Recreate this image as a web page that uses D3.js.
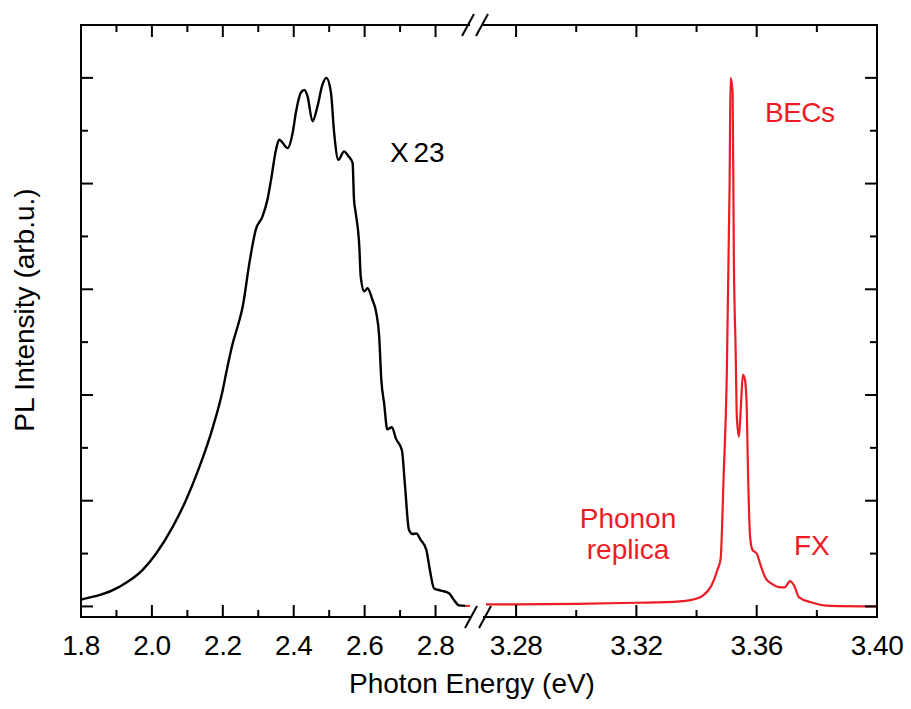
<!DOCTYPE html>
<html>
<head>
<meta charset="utf-8">
<script src="https://cdn.jsdelivr.net/npm/d3@7"></script>
<style>
  html, body { margin: 0; padding: 0; background: #fff; }
  svg { display: block; font-family: "Liberation Sans", Arial, sans-serif; }
</style>
</head>
<body>
<div id="chart"></div>
<script>
// espectro visible (escalado x23), eV vs intensidad normalizada
const energiaVisible = [1.80, 1.908, 1.974, 2.012, 2.059, 2.096, 2.134, 2.171, 2.20, 2.209, 2.228, 2.242, 2.256, 2.275, 2.293, 2.312, 2.326, 2.336, 2.350, 2.359, 2.383, 2.397, 2.406, 2.420, 2.430, 2.439, 2.453, 2.467, 2.481, 2.492, 2.505, 2.514, 2.526, 2.542, 2.554, 2.566, 2.570, 2.575, 2.585, 2.589, 2.599, 2.608, 2.622, 2.633, 2.641, 2.647, 2.655, 2.664, 2.677, 2.688, 2.705, 2.714, 2.725, 2.735, 2.746, 2.758, 2.774, 2.784, 2.796, 2.815, 2.838, 2.852, 2.866, 2.885];
const intensidadVisible = [0.013, 0.037, 0.069, 0.100, 0.151, 0.201, 0.264, 0.337, 0.410, 0.440, 0.498, 0.530, 0.567, 0.650, 0.713, 0.738, 0.770, 0.807, 0.864, 0.883, 0.867, 0.896, 0.934, 0.972, 0.977, 0.965, 0.918, 0.946, 0.987, 1.000, 0.972, 0.896, 0.845, 0.861, 0.852, 0.839, 0.770, 0.744, 0.681, 0.624, 0.596, 0.602, 0.580, 0.555, 0.511, 0.429, 0.384, 0.335, 0.339, 0.318, 0.296, 0.227, 0.145, 0.137, 0.138, 0.126, 0.107, 0.069, 0.034, 0.030, 0.025, 0.012, 0.002, 0.001];

// espectro UV (borde de banda)
const energiaUV = [3.27, 3.28, 3.30, 3.32, 3.33, 3.338, 3.342, 3.345, 3.347, 3.348, 3.349, 3.350, 3.351, 3.3513, 3.352, 3.3524, 3.353, 3.3534, 3.3541, 3.3548, 3.3554, 3.356, 3.3566, 3.3572, 3.3578, 3.3586, 3.360, 3.3613, 3.363, 3.3647, 3.368, 3.3693, 3.3711, 3.3724, 3.3741, 3.378, 3.3847, 3.40];
const intensidadUV = [0.004, 0.004, 0.005, 0.007, 0.008, 0.012, 0.020, 0.040, 0.070, 0.090, 0.245, 0.422, 0.800, 1.000, 0.972, 0.662, 0.485, 0.359, 0.321, 0.384, 0.438, 0.432, 0.391, 0.233, 0.132, 0.107, 0.100, 0.078, 0.053, 0.044, 0.036, 0.036, 0.048, 0.040, 0.017, 0.008, 0.001, 0.000];

// trocito rojo antes del corte
const energiaCorte = [2.885, 2.897];
const intensidadCorte = [0.001, 0.001];

const ticksIzq = [1.8, 2.0, 2.2, 2.4, 2.6, 2.8];
const ticksIzqMenores = [1.9, 2.1, 2.3, 2.5, 2.7];
const ticksDer = [3.28, 3.32, 3.36, 3.40];
const ticksDerMenores = [3.30, 3.34, 3.38];
const ticksY = [0, 0.2, 0.4, 0.6, 0.8, 1.0];
const ticksYMenores = [0.1, 0.3, 0.5, 0.7, 0.9];

const rojo = "#ED1C24";
const width = 911, height = 709;
const izq = 81, der = 877, arriba = 25, abajo = 617;
const corteA = 471, corteB = 483;

const x1 = d3.scaleLinear().domain([1.8, 2.9]).range([izq, corteA]);
const x2 = d3.scaleLinear().domain([3.269, 3.40]).range([corteB, der]);
const y = d3.scaleLinear().domain([-0.02, 1.1]).range([abajo, arriba]);

const svg = d3.select("#chart").append("svg")
  .attr("width", width)
  .attr("height", height);

function trazar(xs, ys, escala, col, ancho) {
  const puntos = xs.map((v, i) => [v, ys[i]]);
  svg.append("path")
    .datum(puntos)
    .attr("fill", "none")
    .attr("stroke", col)
    .attr("stroke-width", ancho)
    .attr("stroke-linejoin", "round")
    .attr("d", d3.line()
      .x(d => escala(d[0]))
      .y(d => y(d[1]))
      .curve(d3.curveMonotoneX));
}

trazar(energiaVisible, intensidadVisible, x1, "#000", 2.4);
trazar(energiaCorte, intensidadCorte, x1, rojo, 2);
trazar(energiaUV, intensidadUV, x2, rojo, 2.2);

// marco
const marco = svg.append("g").attr("stroke", "#000").attr("stroke-width", 2).attr("fill", "none");
marco.append("line").attr("x1", izq).attr("x2", izq).attr("y1", arriba - 1).attr("y2", abajo + 1);
marco.append("line").attr("x1", der).attr("x2", der).attr("y1", arriba - 1).attr("y2", abajo + 1);
[arriba, abajo].forEach(yy => {
  marco.append("line").attr("x1", izq).attr("x2", corteA - 1).attr("y1", yy).attr("y2", yy);
  marco.append("line").attr("x1", corteB).attr("x2", der).attr("y1", yy).attr("y2", yy);
});

// marcas de corte
[[468, arriba], [482, arriba], [471, abajo], [485, abajo]].forEach(([cx, cy]) => {
  marco.append("line")
    .attr("x1", cx - 6).attr("y1", cy + 11)
    .attr("x2", cx + 6).attr("y2", cy - 11);
});

// ticks hacia dentro
function ticksX(escala, valores, largo) {
  valores.forEach(v => {
    const px = escala(v);
    marco.append("line").attr("x1", px).attr("x2", px).attr("y1", abajo).attr("y2", abajo - largo);
    marco.append("line").attr("x1", px).attr("x2", px).attr("y1", arriba).attr("y2", arriba + largo);
  });
}
ticksX(x1, ticksIzq, 12);
ticksX(x1, ticksIzqMenores, 7);
ticksX(x2, ticksDer, 12);
ticksX(x2, ticksDerMenores, 7);

function ticksLadoY(valores, largo) {
  valores.forEach(v => {
    const py = y(v);
    marco.append("line").attr("x1", izq).attr("x2", izq + largo).attr("y1", py).attr("y2", py);
    marco.append("line").attr("x1", der).attr("x2", der - largo).attr("y1", py).attr("y2", py);
  });
}
ticksLadoY(ticksY, 12);
ticksLadoY(ticksYMenores, 7);

// etiquetas de ticks
const etiquetas = svg.append("g")
  .attr("font-size", 28)
  .attr("letter-spacing", -0.5)
  .attr("text-anchor", "middle")
  .attr("fill", "#000");

ticksIzq.forEach(v => {
  etiquetas.append("text").attr("x", x1(v)).attr("y", 655).text(d3.format(".1f")(v));
});
ticksDer.forEach(v => {
  etiquetas.append("text").attr("x", x2(v)).attr("y", 655).text(d3.format(".2f")(v));
});

// títulos de ejes
svg.append("text")
  .attr("x", 472).attr("y", 693)
  .attr("text-anchor", "middle")
  .attr("font-size", 28)
  .text("Photon Energy (eV)");

svg.append("text")
  .attr("transform", "translate(34,310) rotate(-90)")
  .attr("text-anchor", "middle")
  .attr("font-size", 28)
  .text("PL Intensity (arb.u.)");

// anotaciones
svg.append("text").attr("x", 390).attr("y", 162).attr("font-size", 28)
  .attr("word-spacing", -3).text("X 23");

const notas = svg.append("g").attr("fill", rojo).attr("font-size", 28);
notas.append("text").attr("x", 765).attr("y", 122).attr("textLength", 70).text("BECs");
notas.append("text").attr("x", 794).attr("y", 555).text("FX");
notas.append("text").attr("x", 628).attr("y", 528).attr("text-anchor", "middle").text("Phonon");
notas.append("text").attr("x", 628).attr("y", 559).attr("text-anchor", "middle").text("replica");
</script>
</body>
</html>
